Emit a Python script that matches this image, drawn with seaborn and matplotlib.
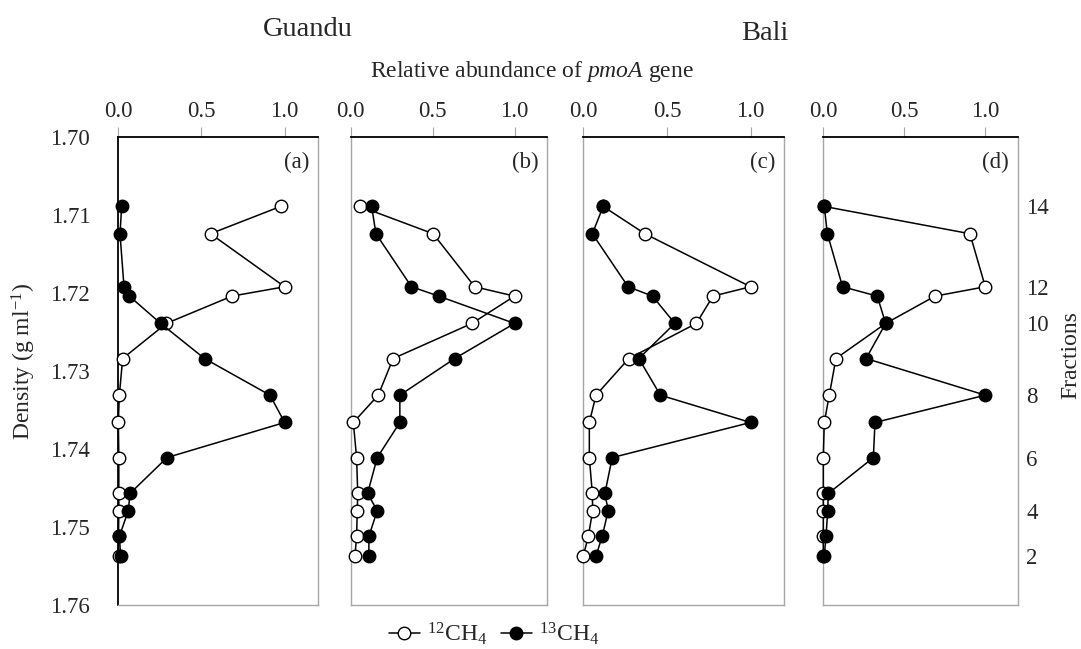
import matplotlib
matplotlib.use("Agg")
import matplotlib.pyplot as plt
import seaborn as sns
import numpy as np
from matplotlib.lines import Line2D

sns.set_theme(style="white")
plt.rcParams['font.family'] = ['Liberation Serif', 'DejaVu Serif']
plt.rcParams['mathtext.fontset'] = 'custom'
plt.rcParams['mathtext.rm'] = 'Liberation Serif'
plt.rcParams['mathtext.it'] = 'Liberation Serif:italic'

# ---- data ----
fractions = [14, 13, 12, 11, 10, 9, 8, 7, 6, 5, 4, 3, 2]
density = [1.7089, 1.7124, 1.7192, 1.7204, 1.7239, 1.7284, 1.7331,
           1.7366, 1.7411, 1.7457, 1.7479, 1.7512, 1.7537]

a_12 = [0.976, 0.555, 1.000, 0.684, 0.290, 0.028, 0.008, 0.002, 0.005, 0.005, 0.005, 0.003, 0.005]
a_13 = [0.022, 0.012, 0.036, 0.068, 0.256, 0.519, 0.912, 1.000, 0.294, 0.072, 0.062, 0.008, 0.016]
b_12 = [0.057, 0.503, 0.757, 1.000, 0.740, 0.259, 0.168, 0.016, 0.036, 0.043, 0.040, 0.036, 0.026]
b_13 = [0.128, 0.154, 0.371, 0.537, 1.000, 0.635, 0.300, 0.300, 0.162, 0.103, 0.162, 0.111, 0.111]
c_12 = [0.119, 0.368, 1.000, 0.775, 0.676, 0.272, 0.076, 0.036, 0.036, 0.054, 0.056, 0.030, 0.000]
c_13 = [0.119, 0.054, 0.268, 0.414, 0.547, 0.332, 0.461, 1.000, 0.173, 0.129, 0.149, 0.113, 0.076]
d_12 = [0.005, 0.905, 1.000, 0.690, 0.385, 0.078, 0.037, 0.006, 0.000, 0.000, 0.000, 0.000, 0.000]
d_13 = [0.006, 0.025, 0.119, 0.333, 0.385, 0.264, 1.000, 0.319, 0.309, 0.031, 0.027, 0.017, 0.006]

panels = [("(a)", a_12, a_13), ("(b)", b_12, b_13),
          ("(c)", c_12, c_13), ("(d)", d_12, d_13)]

x_ticks = [0.0, 0.5, 1.0]
x_ticklabels = ["0.0", "0.5", "1.0"]
y_ticks = [1.70, 1.71, 1.72, 1.73, 1.74, 1.75, 1.76]
frac_labels = [14, 12, 10, 8, 6, 4, 2]

# ---- layout ----
W, H = 1081, 649
fig = plt.figure(figsize=(W / 100, H / 100), dpi=100)
boxes = [(118, 318), (350.7, 547.3), (583.3, 784), (823.3, 1017.7)]
top_px, bot_px = 137, 605
gray = "#a6a6a6"
FS = 16.5

for i, ((lab, v12, v13), (l, r)) in enumerate(zip(panels, boxes)):
    ax = fig.add_axes([l / W, 1 - bot_px / H, (r - l) / W, (bot_px - top_px) / H])
    ax.set_facecolor("white")
    sns.lineplot(x=v12, y=density, sort=False, estimator=None, ax=ax,
                 color="black", linewidth=1.1, marker="o", markersize=9,
                 markerfacecolor="white", markeredgecolor="black",
                 markeredgewidth=1.0, zorder=3, clip_on=False)
    sns.lineplot(x=v13, y=density, sort=False, estimator=None, ax=ax,
                 color="black", linewidth=1.1, marker="o", markersize=9,
                 markerfacecolor="black", markeredgecolor="black",
                 markeredgewidth=1.0, zorder=4, clip_on=False)
    ax.set_xlim(0, 1.2)
    ax.set_ylim(1.76, 1.70)
    ax.xaxis.tick_top()
    ax.set_xticks(x_ticks)
    ax.set_xticklabels(x_ticklabels)
    ax.tick_params(axis="x", top=True, bottom=False, direction="out", length=7,
                   width=0.8, color=gray, labelsize=FS, pad=4)
    ax.set_xlabel("")
    ax.set_ylabel("")
    for s in ["bottom", "right", "left"]:
        ax.spines[s].set_color(gray)
        ax.spines[s].set_linewidth(1.0)
    ax.spines["top"].set_color("black")
    ax.spines["top"].set_linewidth(1.3)
    if i == 0:
        ax.spines["left"].set_color("black")
        ax.spines["left"].set_linewidth(1.3)
        ax.set_yticks(y_ticks)
        ax.set_yticklabels([f"{t:.2f}" for t in y_ticks])
        ax.tick_params(axis="y", left=True, length=0, labelsize=FS, pad=20)
    elif i == 3:
        ax.yaxis.tick_right()
        fr_dens = [density[fractions.index(f)] for f in frac_labels]
        ax.set_yticks(fr_dens)
        ax.set_yticklabels([str(f) for f in frac_labels])
        ax.tick_params(axis="y", right=True, left=False, length=0,
                       labelsize=FS, pad=6)
    else:
        ax.set_yticks([])
    ax.text(0.955, 0.945, lab, transform=ax.transAxes, ha="right", va="center",
            fontsize=FS)
    ax.grid(False)

fig.text(308 / W, 1 - 30 / H, "Guandu", ha="center", va="center", fontsize=20.5)
fig.text(765 / W, 1 - 33 / H, "Bali", ha="center", va="center", fontsize=20.5)
fig.text(532 / W, 1 - 71 / H, r"Relative abundance of $\it{pmoA}$ gene",
         ha="center", va="center", fontsize=17)
fig.text(24 / W, 1 - 361 / H, r"Density (g ml$^{-1}$)", ha="center",
         va="center", rotation=90, fontsize=17)
fig.text(1071 / W, 1 - 355 / H, "Fractions", ha="center", va="center",
         rotation=90, fontsize=17)

handles = [
    Line2D([], [], color="black", lw=1.1, marker="o", markersize=9,
           markerfacecolor="white", markeredgecolor="black"),
    Line2D([], [], color="black", lw=1.1, marker="o", markersize=9,
           markerfacecolor="black", markeredgecolor="black"),
]
fig.legend(handles, [r"$^{12}$CH$_4$", r"$^{13}$CH$_4$"], loc="center",
           bbox_to_anchor=(494 / W, 1 - 634 / H), ncol=2, frameon=False,
           fontsize=17, handlelength=1.3, handletextpad=0.3, columnspacing=0.6,
           borderpad=0.1)

fig.savefig("out.png", dpi=100, facecolor="white")
